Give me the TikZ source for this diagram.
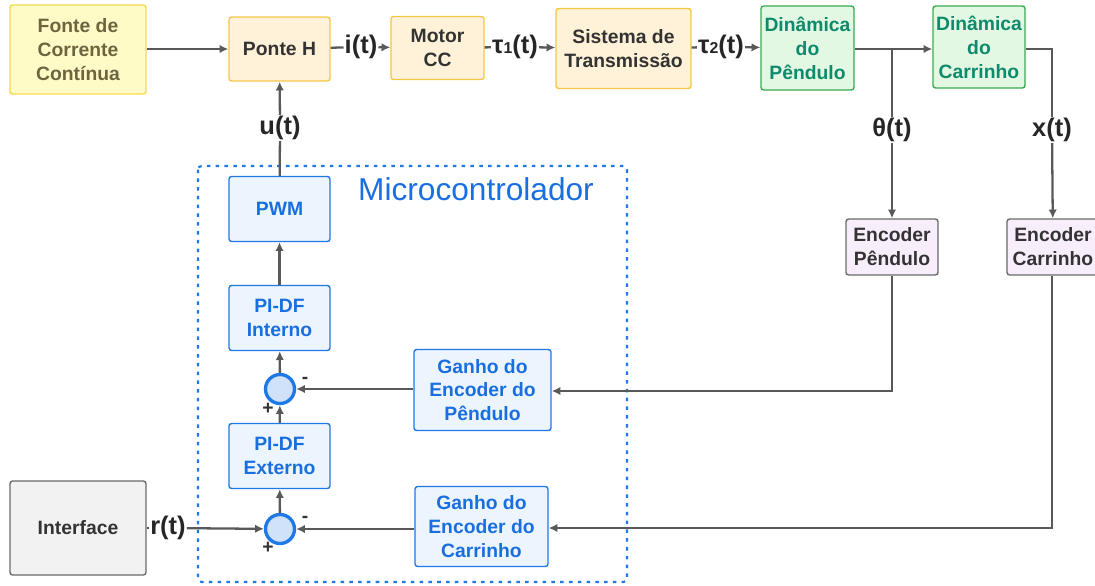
\documentclass[tikz,border=0pt]{standalone}
\usepackage{fontspec}
\setmainfont{Liberation Sans}
\usetikzlibrary{arrows.meta}

\definecolor{fonteFill}{HTML}{FFFBC6}
\definecolor{fonteDraw}{HTML}{F6D94A}
\definecolor{fonteText}{HTML}{6E6440}
\definecolor{motorFill}{HTML}{FFF2D8}
\definecolor{motorDraw}{HTML}{F5C643}
\definecolor{dinFill}{HTML}{E3F8E3}
\definecolor{dinDraw}{HTML}{3AAA50}
\definecolor{dinText}{HTML}{0E8A6C}
\definecolor{mcFill}{HTML}{ECF4FE}
\definecolor{mcDraw}{HTML}{1E78E6}
\definecolor{mcText}{HTML}{1A6FE0}
\definecolor{somaFill}{HTML}{CFE2FA}
\definecolor{encFill}{HTML}{F8EEFB}
\definecolor{cinzaFill}{HTML}{F2F2F3}
\definecolor{cinzaDraw}{HTML}{6A6A6A}
\definecolor{escuro}{HTML}{333333}
\definecolor{linha}{HTML}{595959}

\tikzset{
  blk/.style={draw, rounded corners=1.5pt, line width=0.8pt, align=center,
    font=\bfseries\fontsize{11}{13.6}\selectfont, inner sep=1pt},
  fonte/.style={blk, fill=fonteFill, draw=fonteDraw, text=fonteText},
  motor/.style={blk, fill=motorFill, draw=motorDraw, text=escuro},
  din/.style={blk, fill=dinFill, draw=dinDraw, text=dinText},
  mc/.style={blk, fill=mcFill, draw=mcDraw, text=mcText},
  enc/.style={blk, fill=encFill, draw=cinzaDraw, text=escuro},
  iface/.style={blk, fill=cinzaFill, draw=cinzaDraw, text=escuro},
  soma/.style={circle, draw=mcDraw, fill=somaFill, line width=1.9pt,
    minimum size=0.58cm, inner sep=0pt},
  sig/.style={font=\bfseries\fontsize{14.5}{16}\selectfont, text=black!85, inner sep=0.5pt},
  sinal/.style={font=\bfseries\fontsize{11}{11}\selectfont, text=escuro, inner sep=0pt},
  liga/.style={draw=linha, line width=1.3pt},
  seta/.style={liga, -{Latex[length=5pt,width=4.8pt]}},
}
\newcommand{\ind}[1]{{\fontsize{9}{9}\selectfont #1}}

\begin{document}
\begin{tikzpicture}[x=0.02cm,y=-0.02cm]
\useasboundingbox (0,0) rectangle (1095,585);

% planta
\node[fonte, minimum width=2.72cm, minimum height=1.78cm] (fonte) at (78,49.5) {Fonte de\\Corrente\\Contínua};
\node[motor, minimum width=2.02cm, minimum height=1.28cm] (ponte) at (279.5,49) {Ponte H};
\node[motor, minimum width=1.86cm, minimum height=1.26cm] (motorcc) at (437.5,48) {Motor\\CC};
\node[motor, minimum width=2.70cm, minimum height=1.60cm] (transm) at (623.5,48.5) {Sistema de\\Transmissão};
\node[din, minimum width=1.86cm, minimum height=1.68cm] (dinpend) at (807.5,48) {Dinâmica\\do\\Pêndulo};
\node[din, minimum width=1.84cm, minimum height=1.64cm] (dincarr) at (979,47) {Dinâmica\\do\\Carrinho};
\node[enc, minimum width=1.84cm, minimum height=1.12cm] (encpend) at (892,247) {Encoder\\Pêndulo};
\node[enc, minimum width=1.84cm, minimum height=1.12cm] (enccarr) at (1053,247) {Encoder\\Carrinho};
\node[iface, minimum width=2.72cm, minimum height=1.88cm] (interface) at (78,528) {Interface};

% microcontrolador
\draw[mcDraw, line width=1.2pt, dash pattern=on 2pt off 3pt, rounded corners=2pt] (198,166) rectangle (627,582);
\node[text=mcText, font=\fontsize{18}{20}\selectfont] (mctitulo) at (476,189) {Microcontrolador};
\node[mc, minimum width=2.02cm, minimum height=1.30cm] (pwm) at (279.5,209) {PWM};
\node[mc, minimum width=2.02cm, minimum height=1.30cm] (pidfint) at (279.5,318) {PI-DF\\Interno};
\node[mc, minimum width=2.02cm, minimum height=1.30cm] (pidfext) at (279.5,456) {PI-DF\\Externo};
\node[soma] (soma1) at (280,389) {};
\node[soma] (soma2) at (280,529) {};
\node[mc, minimum width=2.74cm, minimum height=1.62cm] (ganpend) at (482.5,390) {Ganho do\\Encoder do\\Pêndulo};
\node[mc, minimum width=2.66cm, minimum height=1.60cm] (gancarr) at (481.5,526.5) {Ganho do\\Encoder do\\Carrinho};

\node[sinal] (menos1) at (305,380) {-};
\node[sinal] (mais1) at (268,409) {+};
\node[sinal] (menos2) at (305,519) {-};
\node[sinal] (mais2) at (268,548) {+};

% sinais
\node[sig] (it) at (361,47) {i(t)};
\node[sig] (tau1) at (515,47) {τ\ind{1}(t)};
\node[sig] (tau2) at (721,47) {τ\ind{2}(t)};
\node[sig] (ut) at (280,128) {u(t)};
\node[sig] (thetat) at (892,130) {θ(t)};
\node[sig] (xt) at (1052,130) {x(t)};
\node[sig] (rt) at (168,528) {r(t)};

\coordinate (jpend) at (892,49);
\coordinate (jcarr) at (1052,49);
\coordinate (bpend) at (892,391);
\coordinate (bcarr) at (1052,528);

\draw[seta] (fonte.east |- ponte) -- (ponte);
\draw[liga] (ponte) -- (it);
\draw[seta] (it) -- (motorcc);
\draw[liga] (motorcc) -- (tau1);
\draw[seta] (tau1) -- (transm);
\draw[liga] (transm) -- (tau2);
\draw[seta] (tau2) -- (dinpend);
\draw[seta] (dinpend.east |- jpend) -- (dincarr.west |- jpend);
\draw[liga] (jpend) -- (thetat);
\draw[seta] (thetat) -- (encpend);
\draw[liga] (dincarr.east |- jcarr) -- (jcarr) -- (xt);
\draw[seta] (xt) -- (enccarr);
\draw[seta] (encpend) -- (bpend) -- (ganpend.east |- bpend);
\draw[seta] (enccarr.south -| bcarr) -- (bcarr) -- (gancarr.east |- bcarr);
\draw[seta] (ganpend.west |- soma1) -- (soma1);
\draw[seta] (gancarr.west |- soma2) -- (soma2);
\draw[liga] (interface.east |- rt) -- (rt);
\draw[seta] (rt) -- (soma2);
\draw[seta] (soma2) -- (pidfext);
\draw[seta] (pidfext) -- (soma1);
\draw[seta] (soma1) -- (pidfint);
\draw[seta] (pidfint) -- (pwm);
\draw[liga] (pwm) -- (ut);
\draw[seta] (ut) -- (ponte);

\end{tikzpicture}
\end{document}
